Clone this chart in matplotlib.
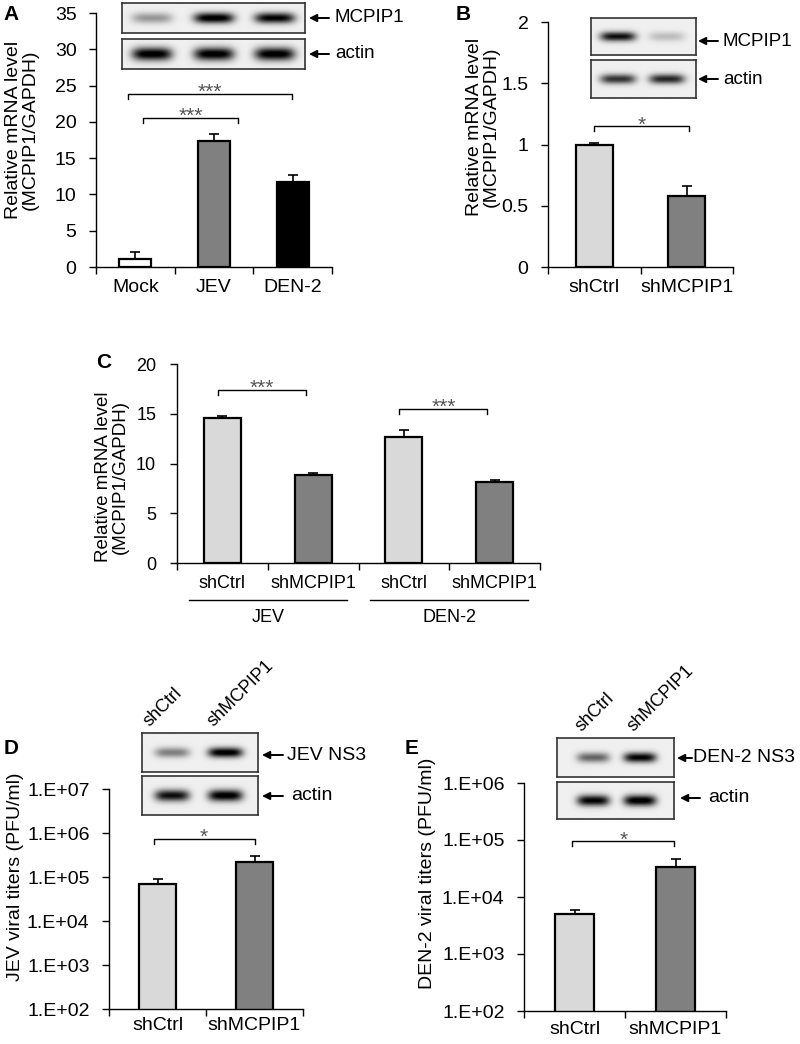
import numpy as np
import matplotlib
matplotlib.use('Agg')
import matplotlib.pyplot as plt
from matplotlib.ticker import FixedLocator, NullLocator, FuncFormatter

plt.rcParams['font.family'] = ['Liberation Sans', 'DejaVu Sans']

# ---------------- data ----------------
a_cats = ["Mock", "JEV", "DEN-2"]
a_vals = [1.1, 17.3, 11.7]
a_err = [0.95, 1.0, 1.0]
a_colors = ["white", "#808080", "black"]

b_cats = ["shCtrl", "shMCPIP1"]
b_vals = [1.0, 0.58]
b_err = [0.012, 0.08]

c_groups = ["JEV", "DEN-2"]
c_cats = ["shCtrl", "shMCPIP1", "shCtrl", "shMCPIP1"]
c_vals = [14.6, 8.8, 12.7, 8.15]
c_err = [0.2, 0.27, 0.7, 0.2]

d_cats = ["shCtrl", "shMCPIP1"]
d_vals = [6.8e4, 2.2e5]
d_err = [2.4e4, 8.0e4]

e_cats = ["shCtrl", "shMCPIP1"]
e_vals = [5.0e3, 3.3e4]
e_err = [0.9e3, 1.35e4]

light, dark = "#d9d9d9", "#808080"

# western blot band intensities (relative)
a_blot_mcpip1 = [0.35, 1.0, 0.95]
a_blot_actin = [1.0, 1.0, 1.0]
b_blot_mcpip1 = [0.9, 0.2]
b_blot_actin = [0.75, 0.8]
d_blot_ns3 = [0.45, 1.0]
d_blot_actin = [0.9, 1.0]
e_blot_ns3 = [0.55, 0.95]
e_blot_actin = [0.95, 1.0]

W, H = 800, 1044
fig = plt.figure(figsize=(W / 100, H / 100), dpi=100)


def axes_px(x0, y0, x1, y1):
    return fig.add_axes([x0 / W, 1 - y1 / H, (x1 - x0) / W, (y1 - y0) / H])


def style(ax, n, fs, pad_x=9, pad_y=9):
    for s in ['top', 'right']:
        ax.spines[s].set_visible(False)
    for s in ['left', 'bottom']:
        ax.spines[s].set_linewidth(1.0)
    ax.set_xlim(-0.5, n - 0.5)
    ax.xaxis.set_major_locator(FixedLocator(list(range(n))))
    ax.xaxis.set_minor_locator(FixedLocator(list(np.arange(n + 1) - 0.5)))
    ax.tick_params(axis='x', which='major', length=0, pad=pad_x, labelsize=fs)
    ax.tick_params(axis='x', which='minor', length=5, width=1, direction='out')
    ax.tick_params(axis='y', which='major', length=5, width=1, direction='out',
                   pad=pad_y, labelsize=fs)
    ax.tick_params(axis='y', which='minor', length=0)


def bars(ax, vals, errs, colors, width=0.41):
    x = np.arange(len(vals))
    ax.errorbar(x, vals, yerr=[np.zeros(len(vals)), errs], fmt='none',
                ecolor='black', elinewidth=1.2, capsize=3.6, capthick=1.2, zorder=1)
    ax.bar(x, vals, width, color=colors, edgecolor='black', linewidth=1.6, zorder=2)


def bracket(ax, x0, x1, y, text, drop_px=5, fs=15):
    d = ax.transData.transform([(x0, y)])[0]
    ylow = ax.transData.inverted().transform([(d[0], d[1] - drop_px)])[0][1]
    ax.plot([x0, x0, x1, x1], [ylow, y, y, ylow], color='black', lw=1.0,
            clip_on=False, zorder=3)
    ax.annotate(text, xy=((x0 + x1) / 2, y), xytext=(0, -6),
                textcoords='offset points', ha='center', va='bottom',
                fontsize=fs, color='#555555')


def blot(x0, y0, x1, y1, centers, intens, halfw, sig=0.2):
    ax = axes_px(x0, y0, x1, y1)
    nx, ny = 300, 60
    X, Y = np.meshgrid(np.linspace(0, 1, nx), np.linspace(0, 1, ny))
    img = np.full_like(X, 0.06)
    for c, a in zip(centers, intens):
        img += a * np.exp(-((X - c) / halfw) ** 4) * np.exp(-((Y - 0.5) / sig) ** 2)
    ax.imshow(np.clip(img, 0, 1), cmap='gray_r', vmin=0, vmax=1, aspect='auto',
              extent=[0, 1, 0, 1], interpolation='bilinear')
    ax.set_xticks([])
    ax.set_yticks([])
    for s in ax.spines.values():
        s.set_linewidth(1.2)
        s.set_color('#333333')
    return ax


# ---------------- Panel A ----------------
axA = axes_px(96, 13, 332, 267)
bars(axA, a_vals, a_err, a_colors, width=0.41)
style(axA, len(a_cats), 14)
axA.set_ylim(0, 35)
axA.set_yticks(range(0, 36, 5))
axA.set_xticklabels(a_cats)
bracket(axA, -0.09, 1.99, 23.9, '***')
bracket(axA, 0.1, 1.3, 20.6, '***')

# ---------------- Panel B ----------------
axB = axes_px(548, 22, 733, 267)
bars(axB, b_vals, b_err, [light, dark], width=0.40)
style(axB, len(b_cats), 14)
axB.set_ylim(0, 2)
axB.set_yticks([0, 0.5, 1, 1.5, 2])
axB.yaxis.set_major_formatter(FuncFormatter(lambda v, p: f"{v:g}"))
axB.set_xticklabels(b_cats)
bracket(axB, 0.0, 1.02, 1.15, '*')

# ---------------- Panel C ----------------
axC = axes_px(177, 364, 540, 563)
bars(axC, c_vals, c_err, [light, dark, light, dark], width=0.41)
style(axC, len(c_cats), 13, pad_x=9, pad_y=10)
axC.set_ylim(0, 20)
axC.set_yticks(range(0, 21, 5))
axC.set_xticklabels(c_cats)
bracket(axC, -0.05, 0.92, 17.4, '***')
bracket(axC, 1.95, 2.92, 15.5, '***')
tr = axC.get_xaxis_transform()
for gi, g in enumerate(c_groups):
    cx = 2 * gi + 0.5
    axC.plot([cx - 0.87, cx + 0.87], [-0.186, -0.186], color='black', lw=1.0,
             transform=tr, clip_on=False)
    axC.text(cx, -0.276, g, transform=tr, ha='center', va='center', fontsize=13)

# ---------------- Panel D ----------------
log_fmt = FuncFormatter(lambda v, p: f"1.E+{int(round(np.log10(v))):02d}")
axD = axes_px(109, 789, 303, 1009)
axD.set_yscale('log')
bars(axD, d_vals, d_err, [light, dark], width=0.39)
style(axD, len(d_cats), 14, pad_x=6, pad_y=9)
axD.set_ylim(1e2, 1e7)
axD.yaxis.set_major_locator(FixedLocator([10.0 ** k for k in range(2, 8)]))
axD.yaxis.set_minor_locator(NullLocator())
axD.yaxis.set_major_formatter(log_fmt)
axD.set_xticklabels(d_cats)
bracket(axD, -0.04, 1.0, 7.4e5, '*')

# ---------------- Panel E ----------------
axE = axes_px(524, 783, 726, 1011)
axE.set_yscale('log')
bars(axE, e_vals, e_err, [light, dark], width=0.39)
style(axE, len(e_cats), 14, pad_x=7, pad_y=9)
axE.set_ylim(1e2, 1e6)
axE.yaxis.set_major_locator(FixedLocator([10.0 ** k for k in range(2, 7)]))
axE.yaxis.set_minor_locator(NullLocator())
axE.yaxis.set_major_formatter(log_fmt)
axE.set_xticklabels(e_cats)
bracket(axE, -0.02, 0.99, 9.5e4, '*')

# ---------------- Blots ----------------
blot(122, 3, 305, 33, [0.164, 0.503, 0.836], a_blot_mcpip1, 0.11, sig=0.18)
blot(122, 39, 305, 69, [0.164, 0.503, 0.836], a_blot_actin, 0.11, sig=0.22)
blot(591, 18, 696, 55, [0.257, 0.724], b_blot_mcpip1, 0.17, sig=0.13)
blot(591, 60, 696, 98, [0.257, 0.724], b_blot_actin, 0.17, sig=0.13)
blot(142, 733, 258, 772, [0.26, 0.72], d_blot_ns3, 0.15, sig=0.13)
blot(142, 776, 258, 815, [0.26, 0.72], d_blot_actin, 0.15, sig=0.15)
blot(557, 738, 674, 777, [0.31, 0.71], e_blot_ns3, 0.14, sig=0.13)
blot(557, 782, 674, 819, [0.31, 0.71], e_blot_actin, 0.14, sig=0.15)

# ---------------- Overlay (pixel coordinates) ----------------
ov = fig.add_axes([0, 0, 1, 1], zorder=10)
ov.set_xlim(0, W)
ov.set_ylim(H, 0)
ov.axis('off')


def arrow_label(x_tail, x_head, y, text, x_text, fs=13.5):
    ov.annotate('', xy=(x_head, y), xytext=(x_tail, y),
                arrowprops=dict(arrowstyle='-|>', color='black', lw=1.4,
                                mutation_scale=11, shrinkA=0, shrinkB=0))
    ov.text(x_text, y, text, ha='left', va='center', fontsize=fs)


arrow_label(329, 309, 18, 'MCPIP1', 335)
arrow_label(329, 309, 54, 'actin', 335)
arrow_label(718, 698, 41, 'MCPIP1', 723)
arrow_label(718, 698, 79, 'actin', 723)
arrow_label(283, 262, 755, 'JEV NS3', 287, fs=14)
arrow_label(283, 262, 796, 'actin', 291, fs=14)
arrow_label(692, 677, 758, 'DEN-2 NS3', 693, fs=14)
arrow_label(700, 680, 798, 'actin', 708, fs=14)

# lane labels
for (x, y, t) in [(149, 727, 'shCtrl'), (213, 727, 'shMCPIP1'),
                  (581, 732, 'shCtrl'), (634, 732, 'shMCPIP1')]:
    ov.text(x, y, t, rotation=45, ha='left', va='baseline',
            rotation_mode='anchor', fontsize=13)

# panel letters
for (x, y, t) in [(3, 14, 'A'), (456, 15, 'B'), (96, 362, 'C'),
                  (4, 748, 'D'), (405, 748, 'E')]:
    ov.text(x, y, t, ha='left', va='center', fontsize=15, fontweight='bold')

# y labels
ov.text(22, 130, 'Relative mRNA level\n(MCPIP1/GAPDH)', rotation=90,
        ha='center', va='center', fontsize=14, linespacing=1.0)
ov.text(483, 127, 'Relative mRNA level\n(MCPIP1/GAPDH)', rotation=90,
        ha='center', va='center', fontsize=14, linespacing=1.0)
ov.text(112, 477, 'Relative mRNA level\n(MCPIP1/GAPDH)', rotation=90,
        ha='center', va='center', fontsize=13.5, linespacing=1.0)
ov.text(16, 877, 'JEV viral titers (PFU/ml)', rotation=90,
        ha='center', va='center', fontsize=14)
ov.text(427, 873, 'DEN-2 viral titers (PFU/ml)', rotation=90,
        ha='center', va='center', fontsize=14)

fig.savefig('out.png', dpi=100)
